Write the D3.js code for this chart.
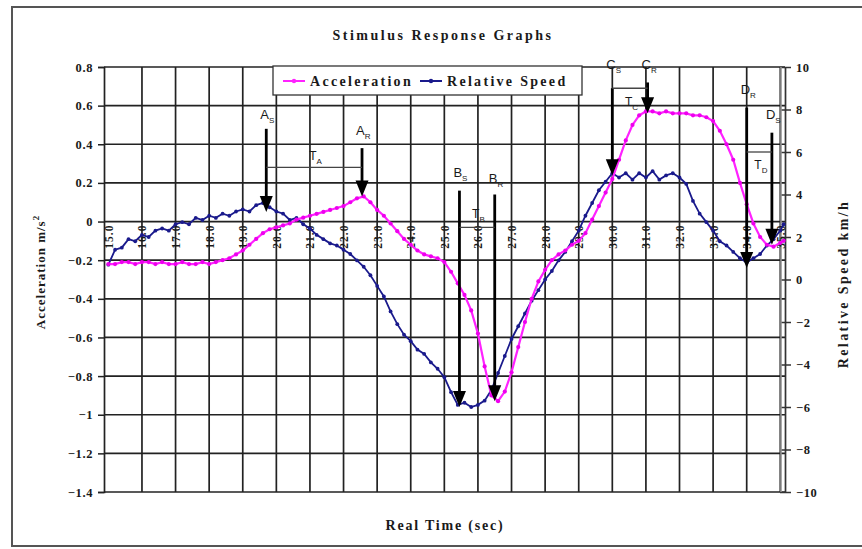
<!DOCTYPE html>
<html>
<head>
<meta charset="utf-8">
<title>Stimulus Response Graphs</title>
<script src="https://d3js.org/d3.v7.min.js"></script>
<style>
  body { margin: 0; background: #fff; }
  svg text { font-family: "Liberation Serif", "Times New Roman", serif; font-weight: bold; fill: #1a1a1a; }
  .mark text { font-family: "Liberation Sans", Arial, sans-serif; font-weight: normal; }
</style>
</head>
<body>
<script>
// time (sec), every 0.2 s
const time = [15.0,15.2,15.4,15.6,15.8,16.0,16.2,16.4,16.6,16.8,17.0,17.2,17.4,17.6,17.8,18.0,18.2,18.4,18.6,18.8,
  19.0,19.2,19.4,19.6,19.8,20.0,20.2,20.4,20.6,20.8,21.0,21.2,21.4,21.6,21.8,22.0,22.2,22.4,22.6,22.8,
  23.0,23.2,23.4,23.6,23.8,24.0,24.2,24.4,24.6,24.8,25.0,25.2,25.4,25.6,25.8,26.0,26.2,26.4,26.6,26.8,
  27.0,27.2,27.4,27.6,27.8,28.0,28.2,28.4,28.6,28.8,29.0,29.2,29.4,29.6,29.8,30.0,30.2,30.4,30.6,30.8,
  31.0,31.2,31.4,31.6,31.8,32.0,32.2,32.4,32.6,32.8,33.0,33.2,33.4,33.6,33.8,34.0,34.2,34.4,34.6,34.8,
  35.0,35.1];

// acceleration m/s2 (left axis)
const acceleration = [-0.22,-0.22,-0.21,-0.21,-0.22,-0.21,-0.21,-0.22,-0.21,-0.22,-0.22,-0.21,-0.22,-0.22,-0.21,-0.22,-0.21,-0.20,-0.19,-0.17,
  -0.15,-0.12,-0.09,-0.06,-0.04,-0.03,-0.02,-0.01,0.01,0.02,0.03,0.04,0.05,0.06,0.07,0.08,0.10,0.12,0.13,0.10,
  0.06,0.03,-0.01,-0.05,-0.09,-0.12,-0.15,-0.17,-0.18,-0.19,-0.21,-0.26,-0.32,-0.38,-0.46,-0.58,-0.75,-0.90,-0.93,-0.88,
  -0.78,-0.65,-0.52,-0.40,-0.31,-0.25,-0.20,-0.17,-0.15,-0.12,-0.10,-0.06,0.01,0.08,0.15,0.22,0.32,0.42,0.50,0.55,
  0.57,0.57,0.56,0.57,0.56,0.56,0.56,0.55,0.55,0.54,0.52,0.47,0.40,0.32,0.20,0.09,-0.01,-0.08,-0.12,-0.13,
  -0.11,-0.10];

// relative speed km/h (right axis)
const relSpeed = [0.7,1.4,1.5,1.9,1.8,2.1,2.0,2.3,2.4,2.3,2.6,2.7,2.6,2.9,2.8,3.0,2.9,3.1,3.0,3.2,
  3.3,3.2,3.5,3.6,3.4,3.2,3.1,2.8,2.9,2.6,2.4,2.1,1.9,1.7,1.6,1.4,1.2,0.9,0.6,0.2,
  -0.3,-0.8,-1.5,-2.1,-2.6,-2.9,-3.3,-3.5,-3.9,-4.2,-4.6,-5.3,-5.9,-5.8,-6.0,-5.9,-5.7,-5.2,-4.4,-3.6,
  -2.8,-2.2,-1.6,-1.0,-0.5,0.0,0.4,0.9,1.3,1.8,2.3,3.0,3.6,4.2,4.6,5.0,4.8,5.0,4.7,5.0,
  4.8,5.1,4.7,4.9,5.0,4.8,4.5,3.7,3.1,2.7,2.3,1.8,1.6,1.3,1.0,0.8,1.0,1.2,1.6,1.9,
  2.3,2.6];

const xTicks = [15,16,17,18,19,20,21,22,23,24,25,26,27,28,29,30,31,32,33,34,35];
const accTicks = [0.8,0.6,0.4,0.2,0,-0.2,-0.4,-0.6,-0.8,-1,-1.2,-1.4];
const speedTicks = [10,8,6,4,2,0,-2,-4,-6,-8,-10];

// arrows: time, top and tip in acceleration units
const arrowNames = [["A","S"],["A","R"],["B","S"],["B","R"],["C","S"],["C","R"],["D","R"],["D","S"]];
const arrowTimes = [19.7, 22.55, 25.45, 26.5, 30.0, 31.05, 34.0, 34.75];
const arrowTops  = [0.48, 0.38, 0.16, 0.14, 0.69, 0.72, 0.59, 0.46];
const arrowTips  = [0.05, 0.13, -0.96, -0.93, 0.24, 0.56, -0.24, -0.12];
const arrowLabelAt = [0.53, 0.45, 0.23, 0.20, 0.79, 0.79, 0.66, 0.53];

// delays: between two arrows, line level and label level
const delayNames = ["A","B","C","D"];
const delayFrom  = [19.7, 25.45, 30.0, 34.0];
const delayTo    = [22.55, 26.5, 31.05, 34.75];
const delayLevel = [0.28, -0.03, 0.69, 0.36];
const delayLabel = [0.32, 0.02, 0.60, 0.27];

const W = 862, H = 549;
const svg = d3.select("body").append("svg")
  .attr("width", W).attr("height", H);

// frame
svg.append("rect")
  .attr("x", 12).attr("y", 7).attr("width", 860).attr("height", 539)
  .attr("fill", "none").attr("stroke", "#555").attr("stroke-width", 2);

const xScale = d3.scaleLinear().domain([14.87, 35.14]).range([104, 785]);
const yAcc = d3.scaleLinear().domain([-1.4, 0.8]).range([492, 67]);
const ySpeed = d3.scaleLinear().domain([-10, 10]).range([492, 67]);

// title
svg.append("text").attr("x", 443).attr("y", 40).attr("text-anchor", "middle")
  .style("font-size", "14px").style("letter-spacing", "2.5px")
  .text("Stimulus Response Graphs");

// grid
const grid = svg.append("g").attr("stroke", "#222").attr("stroke-width", 1.7);
grid.selectAll(".h").data(accTicks).enter().append("line")
  .attr("x1", xScale.range()[0]).attr("x2", xScale.range()[1])
  .attr("y1", d => yAcc(d)).attr("y2", d => yAcc(d));
grid.selectAll(".v").data(xTicks.slice(1)).enter().append("line")
  .attr("x1", d => xScale(d)).attr("x2", d => xScale(d))
  .attr("y1", yAcc.range()[1]).attr("y2", yAcc.range()[0]);

// left axis
const leftAxis = svg.append("g").attr("transform", "translate(104,0)")
  .call(d3.axisLeft(yAcc).tickValues(accTicks).tickSize(6).tickPadding(5)
    .tickFormat(d => d3.format("")(Math.round(d * 10) / 10)));
leftAxis.select(".domain").attr("stroke", "#222").attr("stroke-width", 1.7);
leftAxis.selectAll(".tick line").attr("stroke", "#222").attr("stroke-width", 1.5);
leftAxis.selectAll("text").style("font-size", "12.5px").style("letter-spacing", "0.6px").attr("fill", "#1a1a1a");

// right axis
const rightAxis = svg.append("g").attr("transform", "translate(785,0)")
  .call(d3.axisRight(ySpeed).tickValues(speedTicks).tickSizeInner(6).tickSizeOuter(0).tickPadding(5));
rightAxis.select(".domain").attr("stroke", "#333").attr("stroke-width", 1.7);
rightAxis.selectAll(".tick line").attr("stroke", "#333").attr("stroke-width", 1.5).attr("x1", -5);
rightAxis.selectAll("text").style("font-size", "12.5px").style("letter-spacing", "0.6px").attr("fill", "#1a1a1a");
svg.append("line").attr("x1", 781).attr("x2", 781).attr("y1", 67).attr("y2", 492)
  .attr("stroke", "#999").attr("stroke-width", 1.5);

// x tick labels, rotated, just under the zero line
svg.append("g").selectAll("text").data(xTicks).enter().append("text")
  .attr("transform", d => "translate(" + (xScale(d) + 4.5) + "," + (yAcc(0) + 3) + ") rotate(-90)")
  .attr("text-anchor", "end")
  .style("font-size", "11.5px").style("letter-spacing", "1px")
  .text(d => d3.format(".1f")(d));

// axis titles
svg.append("text").attr("transform", "translate(45,272) rotate(-90)")
  .attr("text-anchor", "middle").style("font-size", "13px").style("letter-spacing", "1px")
  .text("Acceleration m/s")
  .append("tspan").attr("dy", -6).style("font-size", "9px").text("2");
svg.append("text").attr("transform", "translate(848,284) rotate(-90)")
  .attr("text-anchor", "middle").style("font-size", "14px").style("letter-spacing", "2.4px")
  .text("Relative Speed km/h");
svg.append("text").attr("x", 445).attr("y", 530).attr("text-anchor", "middle")
  .style("font-size", "14px").style("letter-spacing", "1.8px")
  .text("Real Time (sec)");

// series
const accData = time.map((t, i) => ({ t: t, v: acceleration[i] }));
const spdData = time.map((t, i) => ({ t: t, v: relSpeed[i] }));

const accLine = d3.line().x(d => xScale(d.t)).y(d => yAcc(d.v));
const spdLine = d3.line().x(d => xScale(d.t)).y(d => ySpeed(d.v));

svg.append("path").datum(spdData).attr("d", spdLine)
  .attr("fill", "none").attr("stroke", "#1a1a8c").attr("stroke-width", 1.8);
svg.append("g").selectAll("circle").data(spdData).enter().append("circle")
  .attr("cx", d => xScale(d.t)).attr("cy", d => ySpeed(d.v)).attr("r", 1.9)
  .attr("fill", "#1a1a8c");

svg.append("path").datum(accData).attr("d", accLine)
  .attr("fill", "none").attr("stroke", "#ff22ff").attr("stroke-width", 2.2);
svg.append("g").selectAll("circle").data(accData).enter().append("circle")
  .attr("cx", d => xScale(d.t)).attr("cy", d => yAcc(d.v)).attr("r", 2.1)
  .attr("fill", "#ee00ee");

// annotations
const ann = svg.append("g").attr("class", "mark");
arrowTimes.forEach((t, i) => {
  const x = xScale(t), y0 = yAcc(arrowTops[i]), y1 = yAcc(arrowTips[i]);
  ann.append("line").attr("x1", x).attr("x2", x).attr("y1", y0).attr("y2", y1 - 12)
    .attr("stroke", "#000").attr("stroke-width", 2.8);
  ann.append("path")
    .attr("d", "M" + (x - 6.5) + "," + (y1 - 16) + "L" + (x + 6.5) + "," + (y1 - 16) + "L" + x + "," + y1 + "Z")
    .attr("fill", "#000");
  const lbl = ann.append("text").attr("x", x - 6).attr("y", yAcc(arrowLabelAt[i]))
    .style("font-size", "13px").text(arrowNames[i][0]);
  lbl.append("tspan").attr("dy", 4).style("font-size", "8px").text(arrowNames[i][1]);
});
delayFrom.forEach((t, i) => {
  ann.append("line").attr("x1", xScale(t)).attr("x2", xScale(delayTo[i]))
    .attr("y1", yAcc(delayLevel[i])).attr("y2", yAcc(delayLevel[i]))
    .attr("stroke", "#444").attr("stroke-width", 1.3);
  const lbl = ann.append("text")
    .attr("x", (xScale(t) + xScale(delayTo[i])) / 2 - 5).attr("y", yAcc(delayLabel[i]))
    .style("font-size", "12px").text("T");
  lbl.append("tspan").attr("dy", 4).style("font-size", "8px").text(delayNames[i]);
});

// legend
const legend = svg.append("g");
legend.append("rect").attr("x", 273).attr("y", 66).attr("width", 309).attr("height", 29)
  .attr("fill", "#fff").attr("stroke", "#333").attr("stroke-width", 1.3);
const legItems = [["Acceleration", "#ff22ff", 283], ["Relative Speed", "#1a1a8c", 420]];
legItems.forEach(d => {
  legend.append("line").attr("x1", d[2]).attr("x2", d[2] + 22).attr("y1", 81).attr("y2", 81)
    .attr("stroke", d[1]).attr("stroke-width", 2);
  legend.append("circle").attr("cx", d[2] + 11).attr("cy", 81).attr("r", 2.2).attr("fill", d[1]);
  legend.append("text").attr("x", d[2] + 27).attr("y", 86)
    .style("font-size", "14px").style("letter-spacing", "2.3px").text(d[0]);
});
</script>
</body>
</html>
